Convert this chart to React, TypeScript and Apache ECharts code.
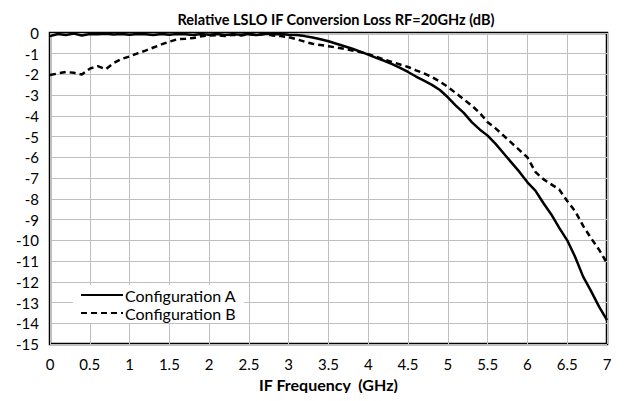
import React, { useEffect, useRef } from "react";
import * as echarts from "echarts";

const freqs: number[] = [
  0.0, 0.1, 0.2, 0.3, 0.4, 0.5, 0.6, 0.7, 0.8, 0.9,
  1.0, 1.1, 1.2, 1.3, 1.4, 1.5, 1.6, 1.7, 1.8, 1.9,
  2.0, 2.1, 2.2, 2.3, 2.4, 2.5, 2.6, 2.7, 2.8, 2.9,
  3.0, 3.1, 3.2, 3.3, 3.4, 3.5, 3.6, 3.7, 3.8, 3.9,
  4.0, 4.1, 4.2, 4.3, 4.4, 4.5, 4.6, 4.7, 4.8, 4.9,
  5.0, 5.1, 5.2, 5.3, 5.4, 5.5, 5.6, 5.7, 5.8, 5.9,
  6.0, 6.1, 6.2, 6.3, 6.4, 6.5, 6.6, 6.7, 6.8, 6.9,
  7.0,
];

const configA: number[] = [
  -0.15, -0.05, -0.1, -0.03, -0.12, -0.05, -0.06, -0.04, -0.07, -0.05,
  -0.08, -0.05, -0.06, -0.1, -0.05, -0.08, -0.05, -0.06, -0.1, -0.05,
  -0.08, -0.05, -0.1, -0.06, -0.09, -0.05, -0.1, -0.04, -0.06, -0.05,
  -0.08, -0.1, -0.15, -0.22, -0.3, -0.4, -0.52, -0.64, -0.76, -0.9,
  -1.04, -1.2, -1.34, -1.5, -1.68, -1.88, -2.1, -2.3, -2.5, -2.75,
  -3.1, -3.5, -3.85, -4.3, -4.65, -4.95, -5.35, -5.8, -6.25, -6.7,
  -7.2, -7.6, -8.2, -8.75, -9.4, -10.0, -10.8, -11.75, -12.45, -13.2,
  -13.85,
];

const configB: number[] = [
  -2.03, -1.95, -1.88, -1.92, -2.0, -1.72, -1.6, -1.75, -1.45, -1.25,
  -1.13, -0.98, -0.85, -0.7, -0.55, -0.42, -0.3, -0.28, -0.24, -0.16,
  -0.12, -0.1, -0.15, -0.08, -0.12, -0.06, -0.1, -0.05, -0.12, -0.15,
  -0.2, -0.3, -0.42, -0.52, -0.58, -0.64, -0.7, -0.76, -0.84, -0.92,
  -1.02, -1.15, -1.28, -1.4, -1.52, -1.64, -1.8, -1.95, -2.12, -2.35,
  -2.6, -2.9, -3.2, -3.5, -3.85, -4.3, -4.6, -4.95, -5.3, -5.65,
  -6.0, -6.7, -7.05, -7.3, -7.55, -8.1, -8.6, -9.3, -9.9, -10.45,
  -11.1,
];

const seriesNames: string[] = ["Configuration A", "Configuration B"];
const titleText = "Relative LSLO IF Conversion Loss RF=20GHz (dB)";
const xAxisName = "IF Frequency  (GHz)";

export default function App() {
  const ref = useRef<HTMLDivElement>(null);
  useEffect(() => {
    if (!ref.current) return;
    const chart = echarts.init(ref.current, undefined, { renderer: "svg" });
    const font = "Lato, 'Open Sans', sans-serif";
    chart.setOption({
      animation: false,
      backgroundColor: "#ffffff",
      title: {
        text: titleText,
        left: 331,
        textAlign: "center",
        top: 7,
        textStyle: { fontFamily: font, fontSize: 14.5, fontWeight: "bold", color: "#000" },
      },
      grid: {
        left: 50,
        right: 23,
        top: 33,
        bottom: 57,
        show: true,
        borderColor: "#000",
        borderWidth: 2.5,
      },
      legend: {
        orient: "vertical",
        left: 73,
        top: 285,
        backgroundColor: "#ffffff",
        padding: [2, 8, 2, 7],
        itemGap: 2,
        itemWidth: 42,
        itemHeight: 14,
        itemStyle: { opacity: 0 },
        textStyle: { fontFamily: font, fontSize: 16, color: "#000", padding: [0, 0, 0, -3] },
        data: seriesNames,
      },
      xAxis: {
        type: "value",
        min: 0,
        max: 7,
        interval: 0.5,
        name: xAxisName,
        nameLocation: "middle",
        nameGap: 32,
        nameTextStyle: { fontFamily: font, fontSize: 16, fontWeight: "bold", color: "#000" },
        axisLine: { show: false },
        axisTick: { show: false },
        axisLabel: { fontFamily: font, fontSize: 15, color: "#000", margin: 12 },
        splitLine: { show: true, lineStyle: { color: "#bfbfbf", width: 1 } },
      },
      yAxis: {
        type: "value",
        min: -15,
        max: 0,
        interval: 1,
        axisLine: { show: false },
        axisTick: { show: false },
        axisLabel: { fontFamily: font, fontSize: 15, color: "#000", margin: 11 },
        splitLine: { show: true, lineStyle: { color: "#bfbfbf", width: 1 } },
      },
      series: [
        {
          name: seriesNames[0],
          type: "line",
          symbol: "none",
          data: freqs.map((f, i) => [f, configA[i]]),
          lineStyle: { color: "#000", width: 2.5, type: "solid" },
          itemStyle: { color: "#000" },
          z: 3,
        },
        {
          name: seriesNames[1],
          type: "line",
          symbol: "none",
          data: freqs.map((f, i) => [f, configB[i]]),
          lineStyle: { color: "#000", width: 2.5, type: [6, 4] },
          itemStyle: { color: "#000" },
          z: 3,
        },
      ],
    });
    return () => chart.dispose();
  }, []);
  return <div ref={ref} style={{ width: 630, height: 401, margin: -8 }} />;
}
